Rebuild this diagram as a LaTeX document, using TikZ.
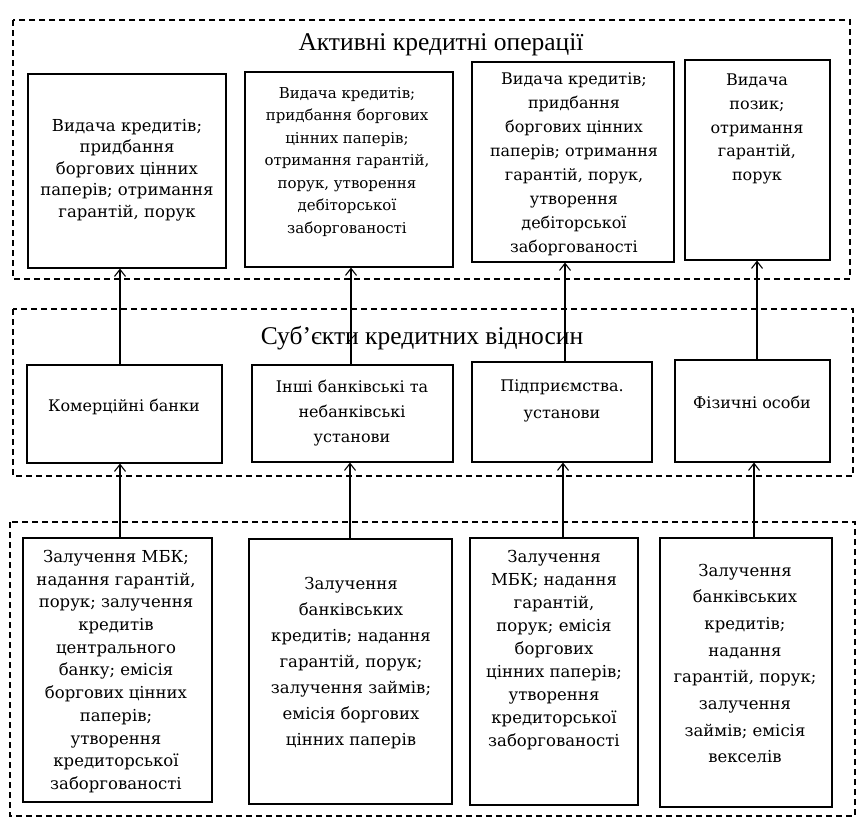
\documentclass[tikz,border=0pt]{standalone}
\usepackage{fontspec}
\setmainfont{DejaVu Serif}
\newfontfamily\titlefont{Liberation Serif}
\usetikzlibrary{arrows.meta}
\tikzset{
  bx/.style={draw, line width=1.1pt, inner sep=0pt, fill=white},
  grp/.style={draw, line width=1.1pt, dash pattern=on 6pt off 4pt},
  txt/.style={align=center, inner sep=0pt, text=black},
  ttl/.style={inner sep=0pt, font=\titlefont\fontsize{25.5}{30}\selectfont},
  arr/.style={line width=1.1pt, -{Straight Barb[length=7pt,width=11pt,line width=1.1pt]}}
}
\begin{document}
\begin{tikzpicture}[x=1pt,y=-1pt]
\useasboundingbox (0,0) rectangle (858,820);
% groups
\draw[grp] (13,20) rectangle (850,279);
\draw[grp] (13,309) rectangle (853,476);
\draw[grp] (10,522) rectangle (855,816);
\node[ttl] (t1) at (441,45) {Активні кредитні операції};
\node[ttl] (t2) at (422,338) {Суб’єкти кредитних відносин};
% top boxes
\node[bx, minimum width=198, minimum height=194] (a1) at (127,171) {};
\node[bx, minimum width=208, minimum height=195] (a2) at (349,169.5) {};
\node[bx, minimum width=202, minimum height=200] (a3) at (573,162) {};
\node[bx, minimum width=145, minimum height=200] (a4) at (757.5,160) {};
% middle boxes
\node[bx, minimum width=195, minimum height=98] (m1) at (124.5,414) {};
\node[bx, minimum width=201, minimum height=97] (m2) at (352.5,413.5) {};
\node[bx, minimum width=180, minimum height=100] (m3) at (562,412) {};
\node[bx, minimum width=155, minimum height=102] (m4) at (752.5,411) {};
% bottom boxes
\node[bx, minimum width=189, minimum height=264] (b1) at (117.5,670) {};
\node[bx, minimum width=203, minimum height=265] (b2) at (350.5,671.5) {};
\node[bx, minimum width=168, minimum height=267] (b3) at (554,671.5) {};
\node[bx, minimum width=172, minimum height=269] (b4) at (746,672.5) {};
% texts
\node[txt, font=\fontsize{16.5}{21.5}\selectfont] (a1t) at (127,170) {Видача кредитів;\\придбання\\боргових цінних\\паперів; отримання\\гарантій, порук};
\node[txt, font=\fontsize{15}{22.5}\selectfont] (a2t) at (347,162) {Видача кредитів;\\придбання боргових\\цінних паперів;\\отримання гарантій,\\порук, утворення\\дебіторської\\заборгованості};
\node[txt, font=\fontsize{16}{24}\selectfont] (a3t) at (574,164) {Видача кредитів;\\придбання\\боргових цінних\\паперів; отримання\\гарантій, порук,\\утворення\\дебіторської\\заборгованості};
\node[txt, font=\fontsize{16}{23.8}\selectfont] (a4t) at (757,129) {Видача\\позик;\\отримання\\гарантій,\\порук};
\node[txt, font=\fontsize{16}{25}\selectfont] (m1t) at (124,407) {Комерційні банки};
\node[txt, font=\fontsize{16}{25}\selectfont] (m2t) at (352,413) {Інші банківські та\\небанківські\\установи};
\node[txt, font=\fontsize{16}{27}\selectfont] (m3t) at (562,401) {Підприємства.\\установи};
\node[txt, font=\fontsize{16}{25}\selectfont] (m4t) at (752,402) {Фізичні особи};
\node[txt, font=\fontsize{16.5}{22.7}\selectfont] (b1t) at (116,671.5) {Залучення МБК;\\надання гарантій,\\порук; залучення\\кредитів\\центрального\\банку; емісія\\боргових цінних\\паперів;\\утворення\\кредиторської\\заборгованості};
\node[txt, font=\fontsize{16.5}{26.1}\selectfont] (b2t) at (351,663) {Залучення\\банківських\\кредитів; надання\\гарантій, порук;\\залучення займів;\\емісія боргових\\цінних паперів};
\node[txt, font=\fontsize{16.5}{23}\selectfont] (b3t) at (554,650) {Залучення\\МБК; надання\\гарантій,\\порук; емісія\\боргових\\цінних паперів;\\утворення\\кредиторської\\заборгованості};
\node[txt, font=\fontsize{16.5}{26.7}\selectfont] (b4t) at (745,663.5) {Залучення\\банківських\\кредитів;\\надання\\гарантій, порук;\\залучення\\займів; емісія\\векселів};
% connector x positions
\coordinate (x1) at (120,0);
\coordinate (x2) at (351,0);
\coordinate (x3) at (565,0);
\coordinate (x4) at (757,0);
\coordinate (y1) at (120,0);
\coordinate (y2) at (350,0);
\coordinate (y3) at (563,0);
\coordinate (y4) at (754,0);
\draw[arr] (m1.north -| x1) -- (a1.south -| x1);
\draw[arr] (m2.north -| x2) -- (a2.south -| x2);
\draw[arr] (m3.north -| x3) -- (a3.south -| x3);
\draw[arr] (m4.north -| x4) -- (a4.south -| x4);
\draw[arr] (b1.north -| y1) -- (m1.south -| y1);
\draw[arr] (b2.north -| y2) -- (m2.south -| y2);
\draw[arr] (b3.north -| y3) -- (m3.south -| y3);
\draw[arr] (b4.north -| y4) -- (m4.south -| y4);
\end{tikzpicture}
\end{document}
